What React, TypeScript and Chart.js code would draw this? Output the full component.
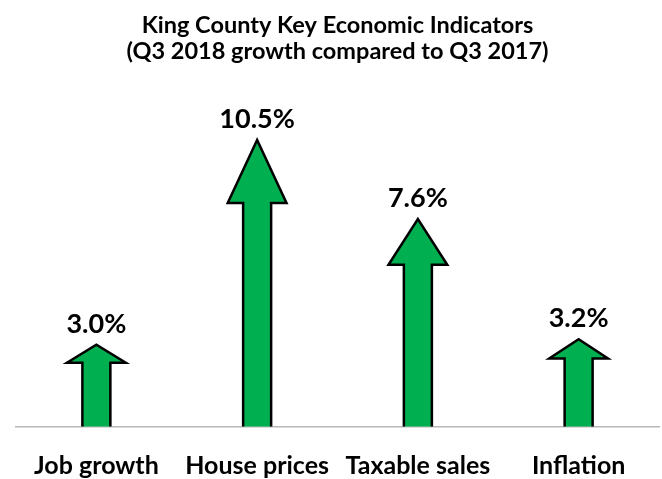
import React, { useEffect, useRef } from 'react';
import { Chart, registerables } from 'chart.js';

Chart.register(...registerables);

const categories: string[] = ['Job growth', 'House prices', 'Taxable sales', 'Inflation'];
const growthValues: number[] = [3.0, 10.5, 7.6, 3.2];
const valueLabels: string[] = ['3.0%', '10.5%', '7.6%', '3.2%'];
const titleLines: string[] = ['King County Key Economic Indicators', '(Q3 2018 growth compared to Q3 2017)'];

const FONT = 'Lato, "Open Sans", sans-serif';

const arrowPlugin = {
  id: 'arrowBars',
  afterDatasetsDraw(chart: any) {
    const ctx = chart.ctx as CanvasRenderingContext2D;
    const meta = chart.getDatasetMeta(0);
    meta.data.forEach((bar: any, i: number) => {
      const { x, y, base, width } = bar.getProps(['x', 'y', 'base', 'width'], true);
      const len = base - y;
      const half = width / 2;
      const headHalf = width * 1.05;
      const headH = len * 0.22;
      ctx.save();
      ctx.beginPath();
      ctx.moveTo(x - half, base);
      ctx.lineTo(x - half, y + headH);
      ctx.lineTo(x - headHalf, y + headH);
      ctx.lineTo(x, y);
      ctx.lineTo(x + headHalf, y + headH);
      ctx.lineTo(x + half, y + headH);
      ctx.lineTo(x + half, base);
      ctx.fillStyle = '#00B050';
      ctx.fill();
      ctx.lineWidth = 2.5;
      ctx.strokeStyle = '#000000';
      ctx.lineJoin = 'miter';
      ctx.stroke();
      ctx.font = `bold 27px ${FONT}`;
      ctx.fillStyle = '#000000';
      ctx.textAlign = 'center';
      ctx.textBaseline = 'alphabetic';
      ctx.fillText(valueLabels[i], x, y - 12);
      ctx.restore();
    });
  },
};

export default function App() {
  const canvasRef = useRef<HTMLCanvasElement | null>(null);

  useEffect(() => {
    document.body.style.margin = '0';
    const canvas = canvasRef.current;
    if (!canvas) return;
    const chart = new Chart(canvas, {
      type: 'bar',
      data: {
        labels: categories,
        datasets: [
          {
            data: growthValues,
            backgroundColor: 'rgba(0,0,0,0)',
            borderWidth: 0,
            barThickness: 28,
          },
        ],
      },
      options: {
        animation: false,
        responsive: false,
        maintainAspectRatio: false,
        layout: { padding: { left: 16, right: 3, top: 0, bottom: 0 } },
        plugins: {
          legend: { display: false },
          tooltip: { enabled: false },
          title: {
            display: true,
            text: titleLines,
            color: '#000000',
            font: { family: FONT, weight: 'bold', size: 23.5, lineHeight: 1.085 },
            padding: { top: 13, bottom: 35 },
          },
        },
        scales: {
          x: {
            grid: { display: false, drawTicks: false },
            border: { display: true, color: '#b8b8b8', width: 1.5 },
            ticks: {
              color: '#000000',
              font: { family: FONT, weight: 'bold', size: 25 },
              padding: 24,
            },
            afterFit(scale: any) {
              scale.height = 52.5;
            },
          },
          y: { display: false, min: 0, max: 12 },
        },
      },
      plugins: [arrowPlugin],
    });
    return () => chart.destroy();
  }, []);

  return (
    <div style={{ width: 662, height: 479 }}>
      <canvas ref={canvasRef} width={662} height={479} />
    </div>
  );
}
